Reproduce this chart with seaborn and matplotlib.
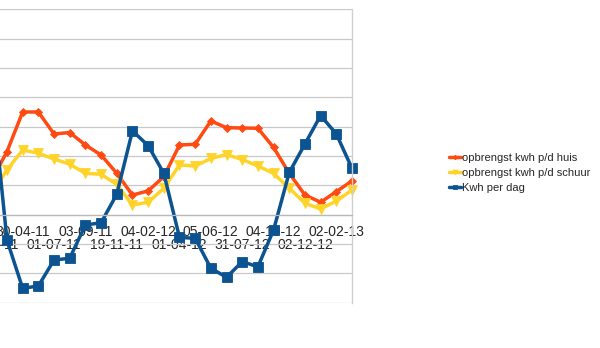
import matplotlib
matplotlib.use("Agg")
import matplotlib.pyplot as plt
import pandas as pd
import seaborn as sns

# ---- data (one point per month, labels every other point) ----
date_labels = ["01-03-11", "30-04-11", "01-07-11", "03-09-11", "19-11-11", "04-02-12",
               "01-04-12", "05-06-12", "31-07-12", "04-10-12", "02-12-12", "02-02-13"]
huis = [2.3, 4.3, 7.0, 7.0, 5.5, 5.6, 4.75, 4.07, 2.82, 1.34, 1.62, 2.59,
        4.75, 4.8, 6.39, 5.93, 5.91, 5.89, 4.58, 2.82, 1.34, 0.85, 1.57, 2.3]
schuur = [1.4, 3.05, 4.41, 4.19, 3.80, 3.44, 2.82, 2.75, 2.07, 0.66, 0.85, 1.80,
          3.39, 3.32, 3.83, 4.10, 3.76, 3.32, 2.81, 1.80, 0.78, 0.39, 0.93, 1.68]
per_dag = [8.8, -1.73, -5.02, -4.86, -3.09, -2.97, -0.70, -0.55, 1.39, 5.71, 4.71, 2.82,
           -1.55, -1.61, -3.65, -4.27, -3.20, -3.55, -1.04, 2.88, 4.82, 6.76, 5.50, 3.16]
series_names = ["opbrengst kwh p/d huis", "opbrengst kwh p/d schuur", "Kwh per dag"]

n = len(huis)
idx = list(range(n))
df = pd.DataFrame({"idx": idx * 3,
                   "value": huis + schuur + per_dag,
                   "series": sum([[s] * n for s in series_names], [])})

sns.set_style("white")
plt.rcParams["font.family"] = ["Liberation Sans", "DejaVu Sans"]

fig = plt.figure(figsize=(6, 3.48), dpi=100)
W, H = 600, 348
x_left, x_right = -8.7, 352.0
y_top, y_bot = 9.3, 302.7
ax = fig.add_axes([x_left / W, 1 - y_bot / H, (x_right - x_left) / W, (y_bot - y_top) / H])

colors = ["#ff4a12", "#ffd42a", "#0b5391"]
markers = ["D", "v", "s"]
msizes = [4.2, 6.5, 6.5]
for name, c, m, ms in zip(series_names, colors, markers, msizes):
    sns.lineplot(data=df[df["series"] == name], x="idx", y="value", ax=ax,
                 color=c, marker=m, markersize=ms, markeredgecolor=c,
                 markeredgewidth=0.6, linewidth=2.5, clip_on=False, label=name,
                 legend=False)

ax.set_xlim(0, n - 1)
ax.set_ylim(-6, 14)
ax.set_yticks(range(-6, 15, 2))
ax.yaxis.grid(True, color="#c8c8c8", linewidth=0.9)
ax.xaxis.grid(False)
ax.tick_params(axis="y", which="both", left=False, labelleft=False)

# staggered category labels: row 1 on major ticks, row 2 on minor ticks
major_pos, major_lab, minor_pos, minor_lab = [], [], [], []
for i in idx:
    if i % 2 == 0 and (i // 2) % 2 == 1:
        major_pos.append(i)
        major_lab.append(date_labels[i // 2])
    else:
        minor_pos.append(i)
        minor_lab.append(date_labels[i // 2] if i % 2 == 0 else "")
ax.set_xticks(major_pos)
ax.set_xticklabels(major_lab, fontsize=8, color="#111111")
ax.set_xticks(minor_pos, minor=True)
ax.set_xticklabels(minor_lab, minor=True, fontsize=8, color="#111111")
ax.tick_params(axis="x", which="major", direction="out", length=4, width=0.8,
               color="#b8b8b8", pad=3.3)
ax.tick_params(axis="x", which="minor", direction="out", length=4, width=0.8,
               color="#b8b8b8", pad=12.9)
ax.set_xlabel("")
ax.set_ylabel("")

for s in ["top", "left"]:
    ax.spines[s].set_visible(False)
ax.spines["right"].set_color("#d0d0d0")
ax.spines["right"].set_linewidth(1.0)
ax.spines["bottom"].set_position(("data", 0))
ax.spines["bottom"].set_color("#b8b8b8")
ax.spines["bottom"].set_linewidth(0.9)

handles = ax.get_lines()[:3]
leg = fig.legend(handles, series_names, loc="upper left",
                 bbox_to_anchor=(443 / W, 1 - 147 / H), frameon=False, fontsize=8,
                 handlelength=1.15, handletextpad=0.1, labelspacing=0.45,
                 borderpad=0, markerscale=0.55)

fig.savefig("out.png", dpi=100, facecolor="white")
